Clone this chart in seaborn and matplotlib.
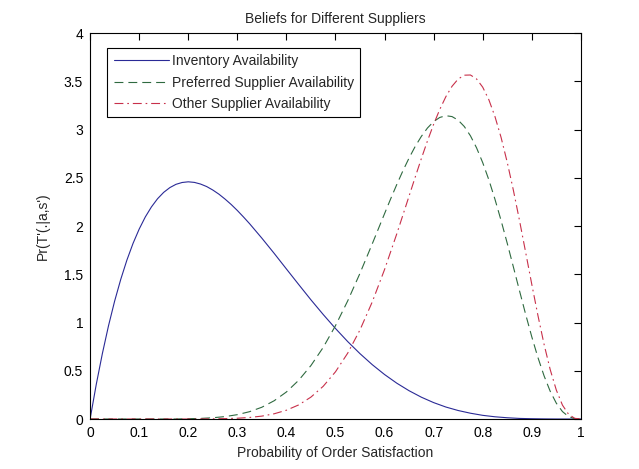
import matplotlib
matplotlib.use("Agg")
import matplotlib.pyplot as plt
import pandas as pd
import seaborn as sns

# sample positions: finer steps where the curves bend most
x_inventory = [round(i * 0.0125, 4) for i in range(26)] + [round(0.325 + i * 0.025, 4) for i in range(28)]
x_preferred = [round(i * 0.025, 4) for i in range(24)] + [round(0.5875 + i * 0.0125, 4) for i in range(33)] + [1.0]
x_other = [round(i * 0.025, 4) for i in range(26)] + [round(0.6375 + i * 0.0125, 4) for i in range(29)] + [1.0]

# values
inventory = [0.0, 0.357, 0.678, 0.966, 1.222, 1.448, 1.647, 1.820, 1.968, 2.094,
             2.198, 2.283, 2.349, 2.398, 2.432, 2.451, 2.458, 2.452, 2.435, 2.409,
             2.373, 2.330, 2.279, 2.223, 2.161, 2.094,
             2.024, 1.874, 1.717, 1.555, 1.394, 1.235, 1.083, 0.938, 0.802, 0.677,
             0.563, 0.461, 0.371, 0.293, 0.226, 0.170, 0.124, 0.088, 0.060, 0.038,
             0.023, 0.013, 0.006, 0.003, 0.001, 0.0, 0.0, 0.0]

preferred = [0.0, 0.0, 0.0, 0.0, 0.0, 0.0, 0.0, 0.0, 0.003, 0.006,
             0.013, 0.025, 0.045, 0.076, 0.122, 0.189, 0.280, 0.401, 0.554, 0.742,
             0.967, 1.225, 1.511, 1.816,
             1.972, 2.128, 2.282, 2.431, 2.573, 2.705, 2.825, 2.929, 3.016, 3.082,
             3.125, 3.143, 3.134, 3.097, 3.031, 2.935, 2.810, 2.657, 2.479, 2.277,
             2.056, 1.821, 1.576, 1.329, 1.085, 0.852, 0.638, 0.448, 0.288, 0.164,
             0.077, 0.025, 0.004, 0.0]

other = [0.0, 0.0, 0.0, 0.0, 0.0, 0.0, 0.0, 0.0, 0.0, 0.0,
         0.002, 0.004, 0.008, 0.016, 0.030, 0.054, 0.091, 0.146, 0.227, 0.339,
         0.489, 0.683, 0.924, 1.214, 1.549, 1.920,
         2.115, 2.311, 2.507, 2.699, 2.883, 3.054, 3.208, 3.341, 3.448, 3.523,
         3.563, 3.565, 3.524, 3.439, 3.309, 3.134, 2.917, 2.660, 2.371, 2.057,
         1.728, 1.396, 1.074, 0.775, 0.513, 0.300, 0.144, 0.049, 0.007, 0.0]

labels = ["Inventory Availability", "Preferred Supplier Availability",
          "Other Supplier Availability"]

sns.set_style("white")
plt.rcParams["font.family"] = ["Liberation Sans Narrow", "Liberation Sans", "DejaVu Sans"]

fig = plt.figure(figsize=(6.39, 4.69), dpi=100)
ax = fig.add_axes([0.141, 0.1066, 0.768, 0.823])

series = [(x_inventory, inventory, "#2a2a96", "-"),
          (x_preferred, preferred, "#2f6a40", (0, (8, 4.5))),
          (x_other, other, "#c8304a", (0, (8, 3.5, 1.5, 3.5)))]
for name, (xs, ys, col, ls) in zip(labels, series):
    df = pd.DataFrame({"x": xs, "y": ys})
    sns.lineplot(data=df, x="x", y="y", ax=ax, color=col, linestyle=ls,
                 linewidth=0.8, label=name)

ax.set_xlim(0, 1)
ax.set_ylim(0, 4)
ax.set_xticks([i / 10 for i in range(11)])
ax.set_xticklabels(["0", "0.1", "0.2", "0.3", "0.4", "0.5", "0.6", "0.7", "0.8", "0.9", "1"])
ax.set_yticks([0, 0.5, 1, 1.5, 2, 2.5, 3, 3.5, 4])
ax.set_yticklabels(["0", "0.5", "1", "1.5", "2", "2.5", "3", "3.5", "4"])
ax.tick_params(direction="in", length=5, width=0.8, top=True, right=True,
               labelsize=10, colors="black", pad=5)
for s in ax.spines.values():
    s.set_color("black")
    s.set_linewidth(0.8)

ax.set_title("Beliefs for Different Suppliers", fontsize=10, pad=7)
ax.set_xlabel("Probability of Order Satisfaction", fontsize=10, labelpad=4)
ax.set_ylabel("Pr(T'(.|a,s')", fontsize=10, labelpad=10)

leg = ax.legend(loc="upper left", bbox_to_anchor=(0.035, 0.962), fancybox=False,
                edgecolor="black", framealpha=1, fontsize=10, handlelength=4.0,
                handletextpad=0.2, labelspacing=0.55, borderpad=0.45, borderaxespad=0)
leg.get_frame().set_linewidth(0.8)

fig.savefig("out.png", dpi=100)
